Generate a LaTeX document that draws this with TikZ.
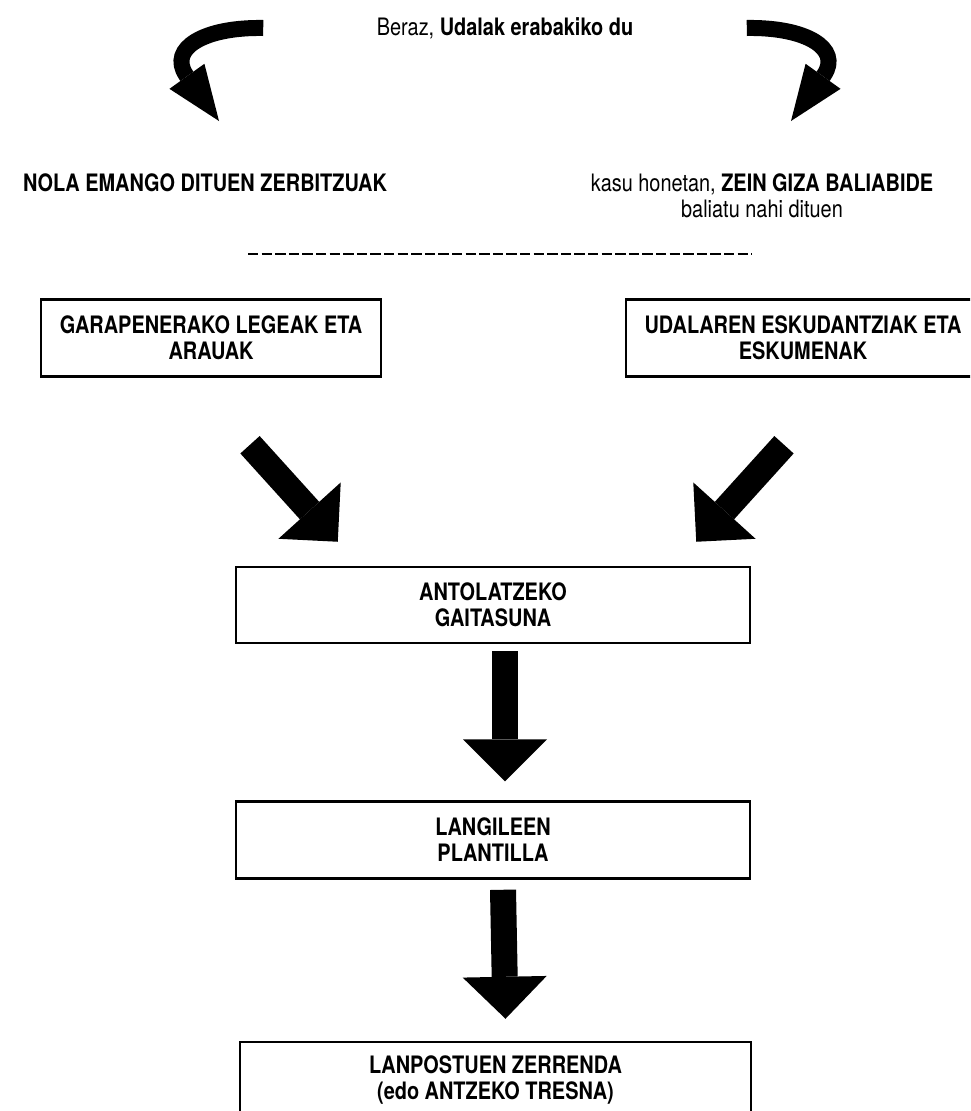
\documentclass[tikz,border=0pt]{standalone}
\usepackage{fontspec}
\setmainfont[FakeStretch=0.83]{TeX Gyre Heros}
\usetikzlibrary{arrows.meta}

\newcommand\diagfont{\fontsize{24pt}{26pt}\selectfont}

\begin{document}
\begin{tikzpicture}[x=1pt,y=-1pt,font=\diagfont]
	\tikzset{box/.style={draw,line width=2.5pt,align=center,font=\diagfont\bfseries,inner sep=0pt,minimum height=77pt}}
	\tikzset{bigarrow/.style={line width=26pt,-{Triangle[width=84pt,length=42pt,line width=0pt]}}}
	\tikzset{bentarrow/.style={line width=16pt,-{Triangle[width=43pt,length=55pt,line width=0pt]}}}
	\useasboundingbox (0,0) rectangle (970,1111);
	\clip (0,0) rectangle (970,1111);

	%% Heading and the two questions
	\node (beraz) at (505,28) {Beraz, \textbf{Udalak erabakiko du}};
	\node[font=\diagfont\bfseries] (nola) at (205,183) {NOLA EMANGO DITUEN ZERBITZUAK};
	\node[align=center] (kasu) at (762,196) {kasu honetan, \textbf{ZEIN GIZA BALIABIDE}\\baliatu nahi dituen};
	\draw[bentarrow] ([xshift=-110]beraz.west) .. controls (205,27) and (168,48) .. (186,75) -- (219,121);
	\draw[bentarrow] ([xshift=110]beraz.east) .. controls (805,27) and (842,48) .. (824,75) -- (791,121);

	%% Separator
	\draw[line width=2.5pt,dash pattern=on 10.3pt off 3.3pt] (248,254) -- (752,254);

	%% Boxes
	\node[box,minimum width=340pt] (gara) at (211,338) {GARAPENERAKO LEGEAK ETA\\ARAUAK};
	\node[box,minimum width=354pt] (udal) at (803,338) {UDALAREN ESKUDANTZIAK ETA\\ESKUMENAK};
	\node[box,minimum width=514pt,minimum height=76pt] (antol) at (493,605) {ANTOLATZEKO\\GAITASUNA};
	\node[box,minimum width=514pt] (langi) at (493,840) {LANGILEEN\\PLANTILLA};
	\node[box,minimum width=511pt,minimum height=76pt] (lanp) at (495.5,1080) {LANPOSTUEN ZERRENDA\\(edo ANTZEKO TRESNA)};

	%% Block arrows
	\draw[bigarrow] ([shift={(39,67)}]gara.south) -- ([shift={(103,-24)}]antol.north west);
	\draw[bigarrow] ([shift={(-19,67)}]udal.south) -- ([shift={(-55,-24)}]antol.north east);
	\draw[bigarrow] ([shift={(12,7)}]antol.south) -- ([shift={(12,-19)}]langi.north);
	\draw[bigarrow] ([shift={(10,10)}]langi.south) -- ([shift={(10,-22)}]lanp.north);
\end{tikzpicture}
\end{document}
